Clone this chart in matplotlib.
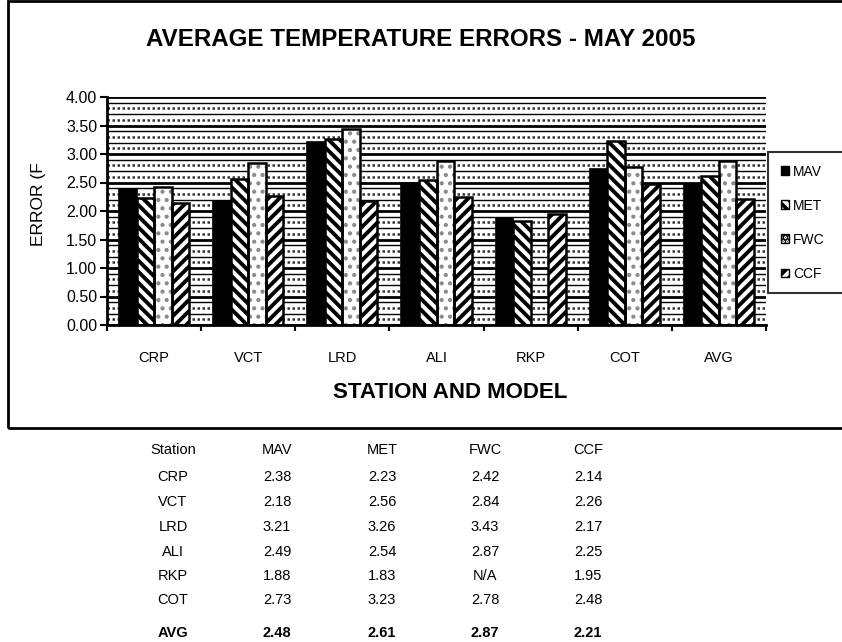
import numpy as np
import matplotlib
matplotlib.use("Agg")
import matplotlib.pyplot as plt
from matplotlib.patches import Rectangle, Patch
from matplotlib.ticker import FixedLocator

plt.rcParams['font.family'] = ['Liberation Sans', 'DejaVu Sans']

stations = ['CRP', 'VCT', 'LRD', 'ALI', 'RKP', 'COT', 'AVG']
models = ['MAV', 'MET', 'FWC', 'CCF']
mav = [2.38, 2.18, 3.21, 2.49, 1.88, 2.73, 2.48]
met = [2.23, 2.56, 3.26, 2.54, 1.83, 3.23, 2.61]
fwc = [2.42, 2.84, 3.43, 2.87, np.nan, 2.78, 2.87]
ccf = [2.14, 2.26, 2.17, 2.25, 1.95, 2.48, 2.21]
yticks = [0.0, 0.5, 1.0, 1.5, 2.0, 2.5, 3.0, 3.5, 4.0]

W, H = 842, 642
fig = plt.figure(figsize=(W / 100, H / 100), dpi=100)

def fx(px):
    return px / W

def fy(py):
    return 1 - py / H

def set_hlw(artists, lw):
    for a in artists:
        if hasattr(a, 'set_hatch_linewidth'):
            a.set_hatch_linewidth(lw)

# outer chart frame
fig.patches.append(Rectangle((fx(8), fy(428)), 1.0, fy(1) - fy(428), transform=fig.transFigure,
                             fill=False, edgecolor='black', linewidth=2, clip_on=False))

ax = fig.add_axes([fx(107), fy(325), fx(766) - fx(107), fy(97) - fy(325)])
ax.set_ylim(0, 4.0)
ax.set_xlim(-0.5, len(stations) - 0.5)

# background pattern (Excel-style horizontal lines)
for yv in np.arange(0.1, 4.0, 0.1):
    if abs(yv / 0.5 - round(yv / 0.5)) < 1e-6:
        continue
    k = int(round(yv * 10)) % 5
    if k in (1, 3):
        ax.axhline(yv, color='#333333', lw=1.8, ls=(0, (1, 1)), zorder=0.5)
    else:
        ax.axhline(yv, color='black', lw=1.0, zorder=0.5)
for yv in yticks:
    ax.axhline(yv, color='black', lw=2.0, zorder=0.6)

x = np.arange(len(stations))
w = 0.186
offs = [-1.5 * w, -0.5 * w, 0.5 * w, 1.5 * w]

plt.rcParams['hatch.linewidth'] = 2.8
ax.bar(x + offs[0], mav, w, color='black', edgecolor='black', lw=1.2, zorder=2)
b1 = ax.bar(x + offs[1], met, w, color='white', edgecolor='black', hatch='\\\\\\', lw=0, zorder=2)
ax.bar(x + offs[1], met, w, fill=False, edgecolor='black', lw=1.8, zorder=3)
b3 = ax.bar(x + offs[3], ccf, w, color='white', edgecolor='black', hatch='///', lw=0, zorder=2)
ax.bar(x + offs[3], ccf, w, fill=False, edgecolor='black', lw=1.8, zorder=3)
set_hlw(b1, 2.8)
set_hlw(b3, 2.8)
b2 = ax.bar(x + offs[2], fwc, w, color='white', edgecolor='#8a8a8a', hatch='..', lw=0, zorder=2)
set_hlw(b2, 1.8)
ax.bar(x + offs[2], fwc, w, fill=False, edgecolor='black', lw=1.8, zorder=3)

ax.set_yticks(yticks)
ax.set_yticklabels([f'{v:.2f}' for v in yticks], fontsize=11.5)
ax.tick_params(axis='y', length=5, width=1.5, pad=2, direction='out')

ax.xaxis.set_major_locator(FixedLocator(np.arange(-0.5, len(stations), 1.0)))
ax.xaxis.set_minor_locator(FixedLocator(x))
ax.set_xticklabels([], minor=False)
ax.set_xticklabels(stations, minor=True, fontsize=10.5)
ax.tick_params(axis='x', which='major', length=4, width=1.5, direction='out')
ax.tick_params(axis='x', which='minor', length=0, pad=19)

for s in ['top', 'right']:
    ax.spines[s].set_visible(False)
ax.spines['left'].set_linewidth(2.0)
ax.spines['bottom'].set_linewidth(2.0)

fig.text(fx(421), fy(40), 'AVERAGE TEMPERATURE ERRORS - MAY 2005', ha='center', va='center',
         fontsize=17.4, fontweight='bold')
fig.text(fx(450), fy(393), 'STATION AND MODEL', ha='center', va='center',
         fontsize=16, fontweight='bold')
fig.text(fx(38), fy(204), 'ERROR (F', ha='center', va='center', rotation=90, fontsize=12.5)

# legend
handles = [Patch(facecolor='black', edgecolor='black'),
           Patch(facecolor='white', edgecolor='black', hatch='\\\\\\'),
           Patch(facecolor='white', edgecolor='black', hatch='....'),
           Patch(facecolor='white', edgecolor='black', hatch='///')]
set_hlw(handles, 1.5)
leg = fig.legend(handles, models, loc='upper left',
                 bbox_to_anchor=(fx(768), fy(293), fx(870) - fx(768), fy(152) - fy(293)),
                 mode='expand',
                 fontsize=10, handlelength=0.6, handleheight=0.6, handletextpad=0.3,
                 labelspacing=1.45, borderpad=0.9, borderaxespad=0, fancybox=False,
                 frameon=True)
leg.get_frame().set_edgecolor('black')
leg.get_frame().set_linewidth(1.5)

# data table
col_x = [173, 277, 382, 485, 588]
rows_y = [477, 502, 527, 552, 576, 600, 633]
header = ['Station'] + models
for cx, txt in zip(col_x, header):
    fig.text(fx(cx), fy(450), txt, ha='center', va='center', fontsize=10.5)

def fmt(v):
    return 'N/A' if np.isnan(v) else f'{v:.2f}'

for i, st in enumerate(stations):
    weight = 'bold' if st == 'AVG' else 'normal'
    vals = [st, fmt(mav[i]), fmt(met[i]), fmt(fwc[i]), fmt(ccf[i])]
    for cx, txt in zip(col_x, vals):
        fig.text(fx(cx), fy(rows_y[i]), txt, ha='center', va='center', fontsize=10.5,
                 fontweight=weight)

fig.savefig('out.png', dpi=100)
